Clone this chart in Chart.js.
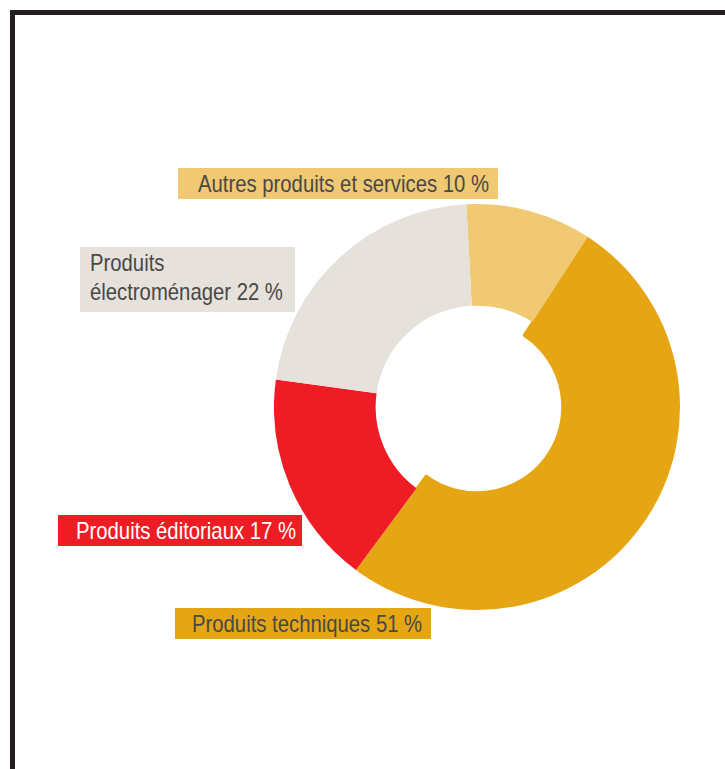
<!DOCTYPE html>
<html>
<head>
<meta charset="utf-8">
<script src="https://cdn.jsdelivr.net/npm/chart.js@4/dist/chart.umd.min.js"></script>
<style>
  body { margin: 0; background: #fff; width: 725px; height: 769px; overflow: hidden; position: relative; }
  .frame { position: absolute; left: 10px; top: 10px; width: 730px; height: 780px; border-top: 5px solid #231F20; border-left: 5px solid #231F20; }
  #wrap { position: absolute; left: 274px; top: 204px; width: 406px; height: 406px; }
  .lbl { position: absolute; font-family: 'Liberation Sans', Arial, sans-serif; font-size: 24px; line-height: 29px; white-space: pre; box-sizing: border-box; overflow: hidden; }
  .lbl span { display: inline-block; transform-origin: 0 0; }
</style>
</head>
<body>
<div class="frame"></div>
<div id="wrap"><canvas id="donut"></canvas></div>
<div id="labels"></div>
<script>
// shares in %, clockwise from the top
const categories = ['Autres produits et services', 'Produits techniques', 'Produits éditoriaux', 'Produits\nélectroménager'];
const shares = [10, 51, 17, 22];
const colors = ['#F0C972', '#E6A614', '#EE1D25', '#E6E1DB'];
const textColors = ['#4A4846', '#4A4846', '#FFFFFF', '#4A4846'];

// label boxes: left, top, width, height, text indent
const boxes = [
    [178, 168, 320, 31, 20],
    [175, 608, 256, 31, 17],
    [58, 515, 244, 31, 18],
    [80, 247, 215, 65, 10]
];

const labelsDiv = document.getElementById('labels');
const spans = [];
categories.forEach((name, i) => {
    const b = boxes[i];
    const el = document.createElement('div');
    el.className = 'lbl';
    el.style.left = b[0] + 'px';
    el.style.top = b[1] + 'px';
    el.style.width = b[2] + 'px';
    el.style.height = b[3] + 'px';
    el.style.paddingLeft = b[4] + 'px';
    el.style.paddingTop = '1px';
    el.style.background = colors[i];
    el.style.color = textColors[i];
    const sp = document.createElement('span');
    sp.textContent = name + ' ' + shares[i] + ' %';
    el.appendChild(sp);
    labelsDiv.appendChild(el);
    spans.push(sp);
});
// condensed look: squeeze so the first label is ~291px wide like the print
const squeeze = 291 / spans[0].getBoundingClientRect().width;
spans.forEach(sp => { sp.style.transform = 'scaleX(' + squeeze + ')'; });

// the technical products slice is drawn thicker towards the centre
const innerColors = colors.map((c, i) => i === 1 ? c : 'rgba(0,0,0,0)');

new Chart(document.getElementById('donut'), {
    type: 'doughnut',
    data: {
        labels: categories,
        datasets: [
            { data: shares, backgroundColor: colors, borderWidth: 0, weight: 101 },
            { data: shares, backgroundColor: innerColors, borderColor: innerColors, borderWidth: 2, weight: 16 }
        ]
    },
    options: {
        responsive: true,
        maintainAspectRatio: false,
        animation: false,
        cutout: '42%',
        rotation: -3,
        plugins: {
            legend: { display: false },
            tooltip: { enabled: false }
        }
    }
});
</script>
</body>
</html>
